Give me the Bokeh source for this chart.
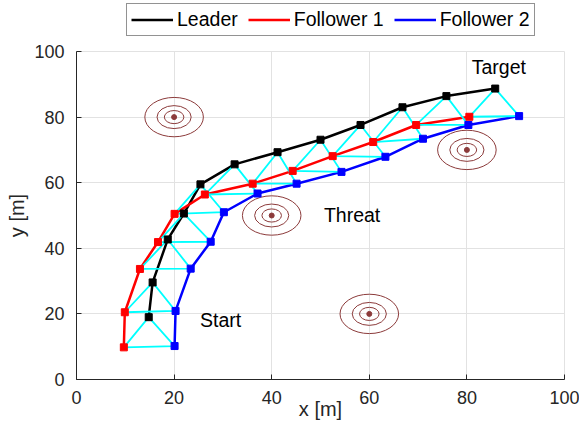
from bokeh.plotting import figure
from bokeh.layouts import column
from bokeh.models import Legend, LegendItem, Range1d, FixedTicker
from bokeh.embed import file_html
from bokeh.resources import INLINE
from bokeh.core.properties import value

# ---------------- data ----------------
leader_x = [14.8, 15.6, 18.7, 22.0, 25.4, 32.4, 41.2, 50.0, 58.2, 66.8, 75.8, 85.8]
leader_y = [19.0, 29.6, 42.7, 50.6, 59.5, 65.6, 69.3, 73.1, 77.6, 83.0, 86.4, 88.7]

follower1_x = [9.7, 9.9, 13.0, 16.7, 20.1, 26.3, 36.1, 44.3, 52.5, 60.8, 69.6, 80.5]
follower1_y = [9.8, 20.5, 33.7, 41.9, 50.5, 56.4, 59.7, 63.6, 68.1, 72.4, 77.6, 80.1]

follower2_x = [20.1, 20.3, 23.4, 27.5, 30.2, 37.1, 45.1, 54.3, 63.3, 71.0, 80.3, 90.7]
follower2_y = [10.2, 20.9, 33.8, 42.0, 51.0, 56.7, 59.7, 63.3, 67.9, 73.4, 77.6, 80.3]

threat_x = [20, 40, 60, 80]
threat_y = [80, 50, 20, 70]
threat_radii = [2, 3.5, 6]

label_text = ["Start", "Threat", "Target"]
label_x = [25.3, 50.7, 81.0]
label_y = [18.1, 50.3, 95.2]

x_ticks = [0, 20, 40, 60, 80, 100]
y_ticks = [0, 20, 40, 60, 80, 100]

series_names = ["Leader", "Follower 1", "Follower 2"]
series_colors = ["black", "#ff0000", "#0000ff"]
x_title = "x [m]"
y_title = "y [m]"

# ---------------- style ----------------
FONT = "Liberation Sans"
AX = "#262626"
GRID = "#e2e2e2"
THREAT = "#8c3b3b"
LW = 2.5
W = 579

p = figure(width=W, height=380,
           x_range=Range1d(0, 100), y_range=Range1d(0, 100),
           output_backend="svg", toolbar_location=None,
           min_border_left=76, min_border_right=15,
           min_border_top=8, min_border_bottom=44)
p.background_fill_color = "white"
p.border_fill_color = "white"
p.outline_line_color = GRID

for ax, ticks in ((p.xaxis[0], x_ticks), (p.yaxis[0], y_ticks)):
    ax.ticker = FixedTicker(ticks=ticks)
    ax.axis_line_color = AX
    ax.major_tick_line_color = AX
    ax.major_tick_in = 5
    ax.major_tick_out = 0
    ax.minor_tick_line_color = None
    ax.major_label_text_font = FONT
    ax.major_label_text_font_size = "18px"
    ax.major_label_text_color = AX
    ax.axis_label_text_font = FONT
    ax.axis_label_text_font_size = "20px"
    ax.axis_label_text_color = AX
    ax.axis_label_text_font_style = "normal"

p.xaxis.axis_label = x_title
p.yaxis.axis_label = y_title
p.xaxis.major_label_standoff = 11
p.xaxis.axis_label_standoff = -9
p.yaxis.major_label_standoff = 12
p.yaxis.axis_label_standoff = 3

p.xgrid.ticker = FixedTicker(ticks=x_ticks)
p.ygrid.ticker = FixedTicker(ticks=y_ticks)
p.grid.grid_line_color = GRID
p.grid.grid_line_width = 1

# threats
ex, ey, ew = [], [], []
for cx, cy in zip(threat_x, threat_y):
    for r in threat_radii:
        ex.append(cx); ey.append(cy); ew.append(2 * r)
p.ellipse(x=ex, y=ey, width=ew, height=ew, fill_color=None,
          line_color=THREAT, line_width=1)
p.scatter(threat_x, threat_y, size=5, color=THREAT, marker="circle")

# paths
paths = [(leader_x, leader_y), (follower1_x, follower1_y), (follower2_x, follower2_y)]
for (xs, ys), c in zip(paths, series_colors):
    p.line(xs, ys, color=c, line_width=LW)

# formation triangles
tri_x = [[a, b, c, a] for a, b, c in zip(follower1_x, leader_x, follower2_x)]
tri_y = [[a, b, c, a] for a, b, c in zip(follower1_y, leader_y, follower2_y)]
p.multi_line(tri_x, tri_y, line_color="#00ffff", line_width=1.8)

# markers
for (xs, ys), c in zip(paths, series_colors):
    p.scatter(xs, ys, marker="square", size=7, color=c)

# text labels
p.text(x=label_x, y=label_y, text=label_text, text_font=value(FONT),
       text_font_size=value("19.5px"), text_color="black",
       text_baseline="alphabetic", text_align="left")

# ---------------- legend strip on top ----------------
# (its frame is aligned with the main frame by the column layout;
#  the proxy lines carry the same data but fall outside its 0..1 ranges)
lf = figure(width=W, height=43, x_range=Range1d(0, 1), y_range=Range1d(0, 1),
            x_axis_type=None, y_axis_type=None, output_backend="svg",
            toolbar_location=None, min_border=0)
lf.outline_line_color = None
lf.background_fill_color = "white"
lf.border_fill_color = "white"
lf.xgrid.visible = False
lf.ygrid.visible = False
lrs = [lf.line(xs, ys, color=c, line_width=LW) for (xs, ys), c in zip(paths, series_colors)]

legend = Legend(items=[LegendItem(label=n, renderers=[r]) for n, r in
                       zip(series_names, lrs)],
                orientation="horizontal", location=(50, 7), margin=0,
                padding=4, spacing=10, glyph_width=42, glyph_height=19,
                label_height=19, label_standoff=4,
                label_text_font=FONT, label_text_font_size="19.5px",
                label_text_color="black",
                border_line_color=AX, border_line_width=1,
                background_fill_color="white", background_fill_alpha=1)
lf.add_layout(legend, "center")

layout = column(lf, p, spacing=0)
open("out.html", "w").write(file_html(layout, INLINE))
